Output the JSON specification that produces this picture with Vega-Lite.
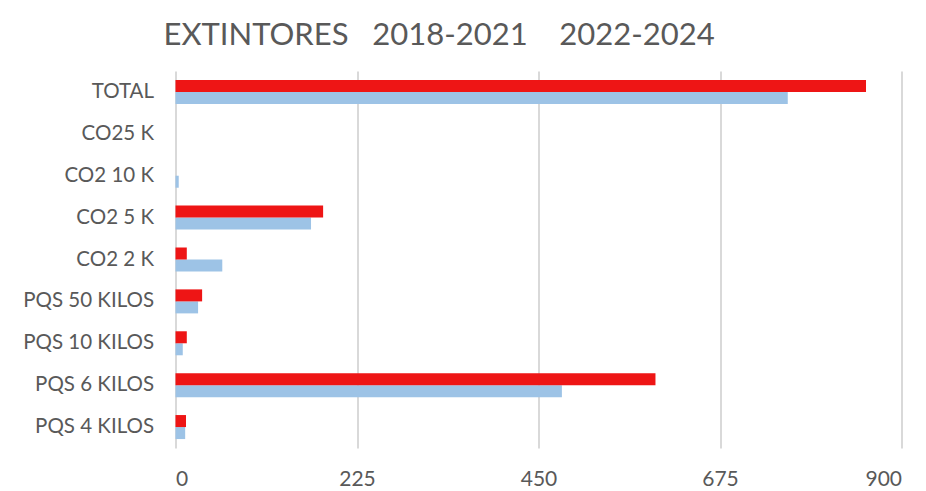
{
  "$schema": "https://vega.github.io/schema/vega-lite/v6.json",
  "width": 726,
  "height": 377,
  "autosize": {"type": "none"},
  "padding": {"left": 175.5, "top": 71, "right": 24.5, "bottom": 43},
  "background": "white",
  "title": {
    "text": "EXTINTORES\u00a0\u00a0\u00a02018-2021\u00a0\u00a0\u00a0\u00a02022-2024",
    "anchor": "start",
    "frame": "group",
    "dx": -12,
    "offset": 19,
    "font": "Lato",
    "fontSize": 31,
    "fontWeight": "normal",
    "color": "#595959"
  },
  "data": {
    "values": [
      {"tipo": "TOTAL", "periodo": "2018-2021", "cantidad": 759},
      {"tipo": "TOTAL", "periodo": "2022-2024", "cantidad": 856},
      {"tipo": "CO25 K", "periodo": "2018-2021", "cantidad": 0},
      {"tipo": "CO25 K", "periodo": "2022-2024", "cantidad": 0},
      {"tipo": "CO2 10 K", "periodo": "2018-2021", "cantidad": 4},
      {"tipo": "CO2 10 K", "periodo": "2022-2024", "cantidad": 0},
      {"tipo": "CO2 5 K", "periodo": "2018-2021", "cantidad": 168},
      {"tipo": "CO2 5 K", "periodo": "2022-2024", "cantidad": 183},
      {"tipo": "CO2 2 K", "periodo": "2018-2021", "cantidad": 58},
      {"tipo": "CO2 2 K", "periodo": "2022-2024", "cantidad": 14},
      {"tipo": "PQS 50 KILOS", "periodo": "2018-2021", "cantidad": 28},
      {"tipo": "PQS 50 KILOS", "periodo": "2022-2024", "cantidad": 33},
      {"tipo": "PQS 10 KILOS", "periodo": "2018-2021", "cantidad": 9},
      {"tipo": "PQS 10 KILOS", "periodo": "2022-2024", "cantidad": 14},
      {"tipo": "PQS 6 KILOS", "periodo": "2018-2021", "cantidad": 479},
      {"tipo": "PQS 6 KILOS", "periodo": "2022-2024", "cantidad": 595},
      {"tipo": "PQS 4 KILOS", "periodo": "2018-2021", "cantidad": 12},
      {"tipo": "PQS 4 KILOS", "periodo": "2022-2024", "cantidad": 13}
    ]
  },
  "mark": {"type": "bar", "cornerRadius": 0},
  "encoding": {
    "y": {
      "field": "tipo",
      "type": "nominal",
      "sort": ["TOTAL", "CO25 K", "CO2 10 K", "CO2 5 K", "CO2 2 K", "PQS 50 KILOS", "PQS 10 KILOS", "PQS 6 KILOS", "PQS 4 KILOS"],
      "scale": {"paddingInner": 0.427, "paddingOuter": 0.2135},
      "axis": {
        "title": null,
        "domain": false,
        "ticks": false,
        "labelPadding": 22,
        "labelFont": "Lato",
        "labelFontSize": 20.5,
        "labelColor": "#595959"
      }
    },
    "yOffset": {
      "field": "periodo",
      "type": "nominal",
      "sort": ["2022-2024", "2018-2021"],
      "scale": {"paddingInner": 0, "paddingOuter": 0}
    },
    "x": {
      "field": "cantidad",
      "type": "quantitative",
      "scale": {"domain": [0, 900], "nice": false},
      "axis": {
        "title": null,
        "values": [0, 225, 450, 675, 900],
        "domain": false,
        "ticks": false,
        "grid": true,
        "gridColor": "#d9d9d9",
        "gridWidth": 2,
        "labelPadding": 20,
        "labelFont": "Lato",
        "labelFontSize": 21,
        "labelColor": "#595959"
      }
    },
    "color": {
      "field": "periodo",
      "type": "nominal",
      "scale": {"domain": ["2018-2021", "2022-2024"], "range": ["#9dc3e6", "#ee1515"]},
      "legend": null
    }
  },
  "config": {"view": {"stroke": null}}
}
